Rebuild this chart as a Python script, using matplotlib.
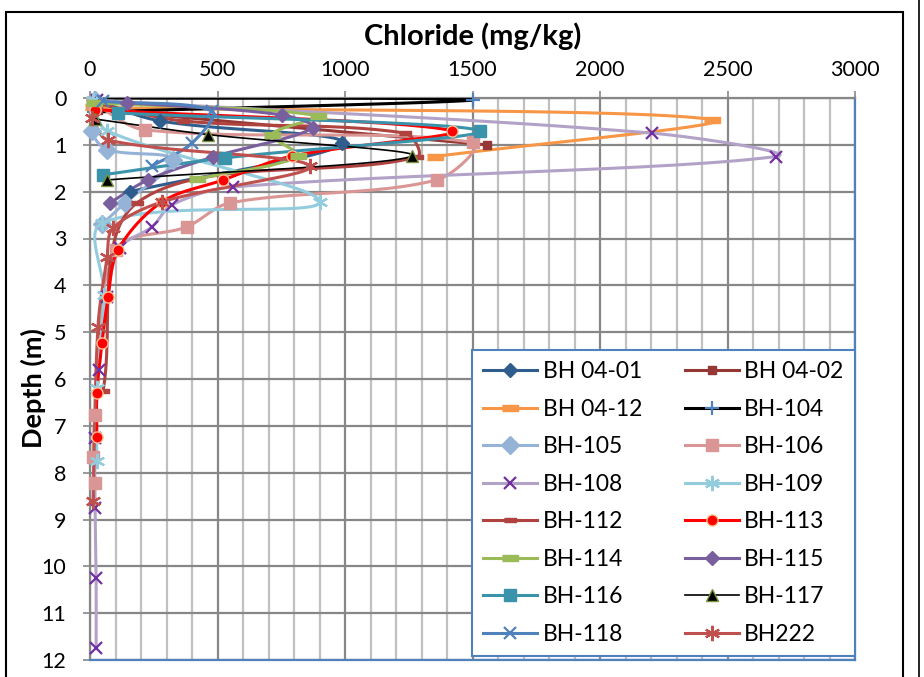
import numpy as np
import matplotlib
matplotlib.use("Agg")
import matplotlib.pyplot as plt
from matplotlib.lines import Line2D
from matplotlib.patches import Rectangle

plt.rcParams['font.family'] = ['Lato', 'DejaVu Sans']

# chloride (mg/kg) and depth (m), one pair of lists per borehole
bh0401_cl = [20, 275, 990, 157]
bh0401_depth = [0.05, 0.49, 0.96, 2.0]
bh0402_cl = [30, 1556]
bh0402_depth = [0.25, 1.0]
bh0412_cl = [10, 2440, 1353]
bh0412_depth = [0.2, 0.46, 1.25]
bh104_cl = [20, 1500, 15]
bh104_depth = [0.0, 0.04, 0.3]
bh105_cl = [20, 7, 67, 326, 137, 47]
bh105_depth = [0.05, 0.7, 1.1, 1.32, 2.24, 2.7]
bh106_cl = [10, 216, 1500, 1360, 549, 380, 100, 20, 12, 20]
bh106_depth = [0.1, 0.68, 0.95, 1.75, 2.24, 2.75, 3.25, 6.77, 7.67, 8.22]
bh108_cl = [27, 2203, 2690, 560, 322, 243, 118, 67, 35, 20, 20, 24, 24]
bh108_depth = [0.05, 0.75, 1.25, 1.9, 2.28, 2.75, 3.2, 4.25, 5.8, 7.25, 8.75, 10.25, 11.75]
bh109_cl = [10, 67, 902, 47, 55, 27, 27]
bh109_depth = [0.05, 0.7, 2.22, 2.67, 4.2, 6.2, 7.75]
bh112_cl = [15, 365, 1235, 1282, 184, 51]
bh112_depth = [0.1, 0.49, 0.75, 1.26, 2.24, 6.26]
bh113_cl = [20, 1420, 792, 522, 282, 110, 71, 47, 27, 27]
bh113_depth = [0.25, 0.7, 1.24, 1.75, 2.22, 3.24, 4.25, 5.23, 6.3, 7.24]
bh114_cl = [15, 894, 713, 815, 420]
bh114_depth = [0.1, 0.38, 0.78, 1.24, 1.73]
bh115_cl = [145, 752, 874, 482, 227, 78]
bh115_depth = [0.1, 0.36, 0.64, 1.26, 1.75, 2.24]
bh116_cl = [110, 1529, 529, 51]
bh116_depth = [0.32, 0.7, 1.28, 1.64]
bh117_cl = [20, 463, 1263, 67]
bh117_depth = [0.45, 0.78, 1.24, 1.75]
bh118_cl = [51, 478, 400, 243]
bh118_depth = [0.07, 0.28, 0.96, 1.45]
bh222_cl = [7, 71, 862, 282, 90, 67, 31, 12]
bh222_depth = [0.43, 0.9, 1.45, 2.22, 2.78, 3.4, 4.9, 8.6]

dash = [(-1, -0.35), (1, -0.35), (1, 0.35), (-1, 0.35)]
star = (6, 2, 0)

# name, x, y, line colour, line width, marker, size, face, edge
series = [
    ("BH 04-01", bh0401_cl, bh0401_depth, "#2F5D8D", 2.2, "D", 7, "#2F5D8D", "#2F5D8D"),
    ("BH 04-02", bh0402_cl, bh0402_depth, "#953735", 2.2, "s", 6, "#953735", "#953735"),
    ("BH 04-12", bh0412_cl, bh0412_depth, "#F79646", 2.2, dash, 11, "#F79646", "#F79646"),
    ("BH-104", bh104_cl, bh104_depth, "#000000", 2.2, "+", 10, "#4F81BD", "#4F81BD"),
    ("BH-105", bh105_cl, bh105_depth, "#95B3D7", 2.2, "D", 9, "#95B3D7", "#95B3D7"),
    ("BH-106", bh106_cl, bh106_depth, "#D99694", 2.2, "s", 9, "#D99694", "#D99694"),
    ("BH-108", bh108_cl, bh108_depth, "#B3A2C7", 2.2, "x", 9, "#7030A0", "#7030A0"),
    ("BH-109", bh109_cl, bh109_depth, "#93CDDD", 2.2, star, 11, "#93CDDD", "#93CDDD"),
    ("BH-112", bh112_cl, bh112_depth, "#B0433F", 2.2, dash, 9, "#B0433F", "#B0433F"),
    ("BH-113", bh113_cl, bh113_depth, "#FF0000", 2.2, "o", 8, "#FF0000", "#FAC090"),
    ("BH-114", bh114_cl, bh114_depth, "#9BBB59", 2.2, dash, 11, "#9BBB59", "#9BBB59"),
    ("BH-115", bh115_cl, bh115_depth, "#7A5F9E", 2.2, "D", 7, "#7A5F9E", "#7A5F9E"),
    ("BH-116", bh116_cl, bh116_depth, "#3A93AB", 2.2, "s", 9, "#3A93AB", "#3A93AB"),
    ("BH-117", bh117_cl, bh117_depth, "#000000", 1.2, "^", 8, "#000000", "#77933C"),
    ("BH-118", bh118_cl, bh118_depth, "#4F81BD", 2.2, "x", 9, "#4F81BD", "#4F81BD"),
    ("BH222", bh222_cl, bh222_depth, "#C0504D", 2.2, star, 11, "#C0504D", "#C0504D"),
]

XMAX, YMAX = 3000, 12
# axes size in pixels, so the smoothing is done in screen space like Excel
SX, SY = 765 / XMAX, 562 / YMAX


def excel_smooth(xs, ys, n=30):
    P = np.column_stack([np.asarray(xs, float) * SX, np.asarray(ys, float) * SY])
    out = [P[0]]
    for i in range(len(P) - 1):
        p0 = P[i - 1] if i > 0 else P[i]
        p1, p2 = P[i], P[i + 1]
        p3 = P[i + 2] if i + 2 < len(P) else P[i + 1]
        d01 = np.hypot(*(p1 - p0))
        d12 = np.hypot(*(p2 - p1))
        d23 = np.hypot(*(p3 - p2))
        k1 = d12 / (d01 + d12) / 3 if d01 + d12 > 0 else 0
        k2 = d12 / (d12 + d23) / 3 if d12 + d23 > 0 else 0
        c1 = p1 + (p2 - p0) * k1
        c2 = p2 - (p3 - p1) * k2
        t = np.linspace(0, 1, n)[1:, None]
        seg = (1 - t) ** 3 * p1 + 3 * (1 - t) ** 2 * t * c1 + 3 * (1 - t) * t ** 2 * c2 + t ** 3 * p2
        out.extend(seg)
    out = np.array(out)
    return out[:, 0] / SX, out[:, 1] / SY


fig = plt.figure(figsize=(9.24, 6.77), dpi=100)
ax = fig.add_axes([90 / 924, 1 - 660 / 677, 765 / 924, 562 / 677])

handles = []
for name, xs, ys, lc, lw, mk, ms, mf, me in series:
    sx_, sy_ = excel_smooth(xs, ys)
    ax.plot(sx_, sy_, color=lc, lw=lw, solid_capstyle="round", zorder=3)
    mew = 1.6 if mk in ("x", "+", star) else 1.0
    ax.plot(xs, ys, ls="none", marker=mk, ms=ms, mfc=mf, mec=me, mew=mew, zorder=4, clip_on=False)
    handles.append(Line2D([], [], color=lc, lw=lw, marker=mk, ms=ms, mfc=mf, mec=me, mew=mew, label=name))

ax.set_xlim(0, XMAX)
ax.set_ylim(YMAX, 0)
ax.xaxis.tick_top()
ax.set_xticks(np.arange(0, 3001, 500))
ax.set_xticks(np.arange(0, 3001, 100), minor=True)
ax.set_yticks(np.arange(0, 13, 1))
ax.grid(which="major", color="#878787", lw=1.6, zorder=0)
ax.grid(which="minor", axis="x", color="#C0C0C0", lw=1.6, zorder=0)
ax.set_axisbelow(True)
ax.tick_params(axis="x", which="major", length=5, width=1.2, color="#878787", pad=8, labelsize=15.5)
ax.tick_params(axis="x", which="minor", length=0)
ax.tick_params(axis="y", length=5, width=1.2, color="#878787", pad=12, labelsize=15.5)
for s in ("top", "left"):
    ax.spines[s].set_color("#878787")
    ax.spines[s].set_linewidth(1.6)
for s in ("right", "bottom"):
    ax.spines[s].set_color("#4F81BD")
    ax.spines[s].set_linewidth(1.6)

fig.text(473 / 924, 1 - 36 / 677, "Chloride (mg/kg)", ha="center", va="center",
         fontsize=21, fontweight="bold")
fig.text(33 / 924, 1 - 388 / 677, "Depth (m)", ha="center", va="center",
         rotation=90, fontsize=19.5, fontweight="bold")

order = list(range(0, 16, 2)) + list(range(1, 16, 2))
leg = ax.legend([handles[i] for i in order], [handles[i].get_label() for i in order],
                ncol=2, loc="upper right", bbox_to_anchor=(1.0, (660 - 350) / 562),
                borderaxespad=0, fontsize=16.5, handlelength=2.35, handletextpad=0.25,
                columnspacing=1.85, labelspacing=0.72, borderpad=0.5,
                fancybox=False, framealpha=1)
leg.get_frame().set_edgecolor("#4F81BD")
leg.get_frame().set_linewidth(1.5)
leg.set_zorder(10)

# chart area border
fig.patches.append(Rectangle((6 / 924, -0.02), (903 - 6) / 924, 1 - 12 / 677 + 0.02,
                             transform=fig.transFigure, fill=False, ec="black", lw=1.5))
fig.add_artist(Line2D([919 / 924, 919 / 924], [0, 1], transform=fig.transFigure, color="black", lw=1.2))

fig.savefig("out.png", dpi=100)
